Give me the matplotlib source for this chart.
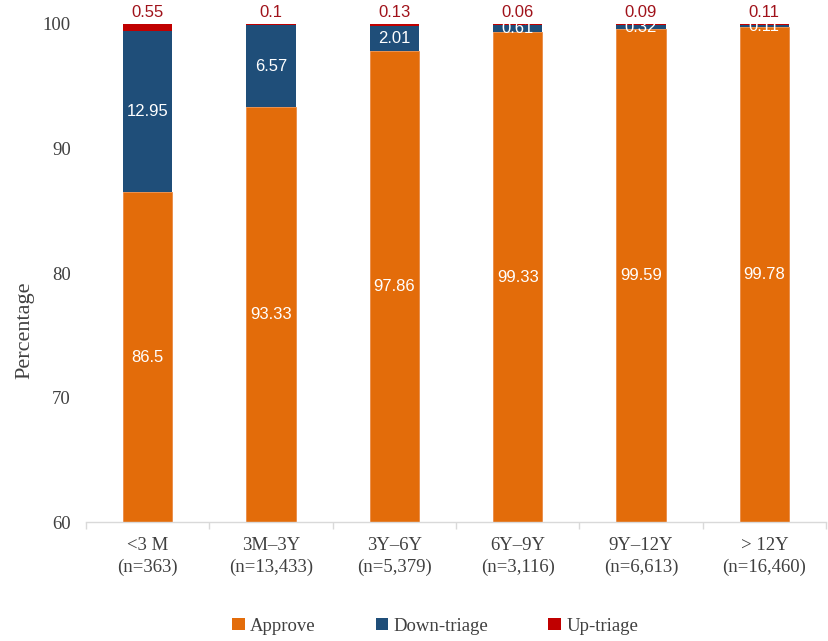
import matplotlib
matplotlib.use("Agg")
import matplotlib.pyplot as plt
from matplotlib.patches import Patch
import numpy as np

categories = ["<3 M\n(n=363)", "3M\u20133Y\n(n=13,433)", "3Y\u20136Y\n(n=5,379)",
              "6Y\u20139Y\n(n=3,116)", "9Y\u201312Y\n(n=6,613)", "> 12Y\n(n=16,460)"]
approve = [86.5, 93.33, 97.86, 99.33, 99.59, 99.78]
down_triage = [12.95, 6.57, 2.01, 0.61, 0.32, 0.11]
up_triage = [0.55, 0.1, 0.13, 0.06, 0.09, 0.11]
series_names = ["Approve", "Down-triage", "Up-triage"]
y_ticks = [60, 70, 80, 90, 100]

c_orange = "#E36C0A"
c_blue = "#1F4E79"
c_red = "#C00000"
c_redtext = "#A0121A"
c_text = "#404040"

serif = ["Liberation Serif", "DejaVu Serif"]
sans = ["Liberation Sans", "DejaVu Sans"]

fig = plt.figure(figsize=(8.29, 6.41), dpi=100)
ax = fig.add_axes([0.1037, 0.1856, 0.8927, 0.777])

x = np.arange(len(categories))
w = 0.40
a = np.array(approve)
d = np.array(down_triage)
u = np.array(up_triage)
ax.bar(x, a, w, color=c_orange, edgecolor="#E98A45", linewidth=0.6)
ax.bar(x, d, w, bottom=a, color=c_blue)
ax.bar(x, u, w, bottom=a + d, color=c_red)

ymin, ymax = 60, 100
ax.set_ylim(ymin, ymax)
ax.set_xlim(-0.5, len(categories) - 0.5)

for i in range(len(categories)):
    ax.text(x[i], (ymin + a[i]) / 2, f"{approve[i]:g}", ha="center", va="center",
            color="white", fontsize=12, family=sans)
    ax.text(x[i], a[i] + d[i] / 2, f"{down_triage[i]:g}", ha="center", va="center",
            color="white", fontsize=12, family=sans)
    ax.annotate(f"{up_triage[i]:g}", (x[i], a[i] + d[i] + u[i]), xytext=(0, 3),
                textcoords="offset points", ha="center", va="bottom",
                color=c_redtext, fontsize=12, family=sans, annotation_clip=False)

for s in ["top", "right", "left"]:
    ax.spines[s].set_visible(False)
ax.spines["bottom"].set_color("#D9D9D9")
ax.spines["bottom"].set_linewidth(1.0)

ax.set_yticks(y_ticks)
ax.set_yticklabels([str(t) for t in y_ticks], family=serif, fontsize=13.5, color=c_text)
ax.tick_params(axis="y", length=0, pad=11)
ax.set_xticks(x)
ax.set_xticklabels(categories, family=serif, fontsize=13.5, color=c_text, linespacing=1.3)
ax.tick_params(axis="x", which="major", length=0, pad=11)
ax.set_xticks(np.arange(-0.5, len(categories), 1.0), minor=True)
ax.tick_params(axis="x", which="minor", length=5, color="#D9D9D9", width=1.0)

fig.text(25 / 829, 1 - 330 / 641, "Percentage", rotation=90, ha="center", va="center",
         family=serif, fontsize=16, color=c_text)

handles = [Patch(facecolor=c_orange), Patch(facecolor=c_blue), Patch(facecolor=c_red)]
fig.legend(handles, series_names, loc="center", bbox_to_anchor=(0.525, 0.023),
           ncol=3, frameon=False, prop={"family": serif, "size": 13.5},
           handlelength=0.65, handleheight=0.65, handletextpad=0.3, columnspacing=3.2,
           labelcolor=c_text)

fig.savefig("out.png", dpi=100)
